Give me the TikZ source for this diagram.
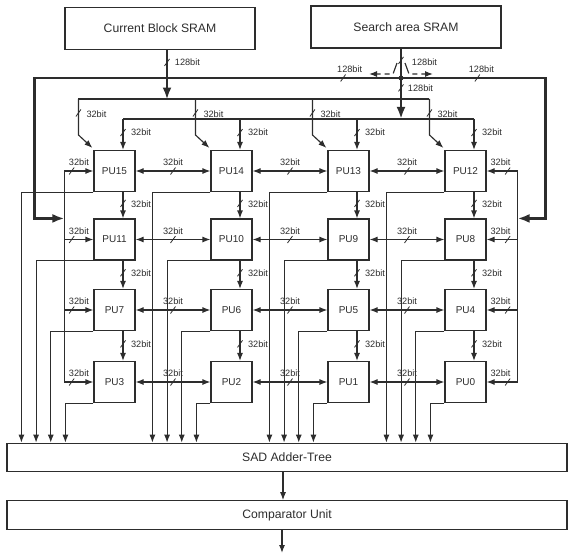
\documentclass[tikz,border=0pt]{standalone}
\usepackage{fontspec}
\setmainfont{Liberation Sans}
\usepackage{tikz}
\usetikzlibrary{calc}
\usetikzlibrary{arrows.meta}
\tikzset{>=latex}
\definecolor{ink}{RGB}{45,45,45}
\tikzset{cut/.pic={\draw[-,line width=0.8pt] (-2.5pt,-3.5pt) -- (2.5pt,3.5pt);}}

\begin{document}
\begin{tikzpicture}[x=1pt,y=-1pt,line width=1.15pt,color=ink,>={Latex[length=8pt,width=6pt]}]
  \tikzstyle{mem}=[draw,minimum width=190pt,minimum height=42pt,font=\fontsize{12.2}{14}\selectfont]
  \tikzstyle{bar}=[draw,minimum width=560pt,minimum height=28.5pt,font=\fontsize{12.2}{14}\selectfont]
  \tikzstyle{unit}=[draw,minimum size=41pt,inner sep=0pt,font=\fontsize{10}{12}\selectfont]
  \tikzstyle{lab}=[inner sep=0.5pt,font=\fontsize{9.2}{10}\selectfont]
  \tikzstyle{bus}=[line width=2.8pt,-{Latex[length=12pt,width=9pt]}]
  \useasboundingbox (0,0) rectangle (569,558);

  \node[mem] (cur) at (160,28.5) {Current Block SRAM};
  \node[mem] (sea) at (406,27) {Search area SRAM};
  \foreach \row/\y in {0/171,1/239.5,2/310,3/382}
    \foreach \col in {0,1,2,3}{
      \pgfmathtruncatemacro{\n}{15-4*\row-\col}
      \node[unit] (pu\n) at (114.5+117*\col,\y) {PU\n};
    }
  \node[bar] (sad) at (287,457.5) {SAD Adder-Tree};
  \node[bar] (cmp) at (287,515) {Comparator Unit};

  \coordinate (jn) at (401,78);
  \coordinate (cin) at (167,99.5);
  \coordinate (sbus) at ($(pu15.north)+(8.5,-31)$);
  \coordinate (lbus) at ($(pu15.west)+(-29,0)$);
  \coordinate (rbus) at ($(pu12.east)+(31,0)$);
  \coordinate (out) at (282,553);

  % 128bit buses
  \draw[bus] (cin |- cur.south) -- pic[pos=.25]{cut} node[lab,pos=.25,right=6pt]{128bit} (cin);
  \draw[line width=2.8pt] (jn |- sea.south) -- pic[pos=.4]{cut} node[lab,pos=.45,right=9pt]{128bit} (jn);
  \draw[bus] (jn) -- pic[pos=.24]{cut} node[lab,pos=.24,right=5pt]{128bit} (jn |- sbus);
  \draw[bus] (jn) -| pic[pos=.079]{cut} node[lab,pos=.07,above=4pt]{128bit}
    ($(lbus |- pu11.north)+(-30,0)$) -- (lbus |- pu11.north);
  \draw[bus] (jn) -| pic[pos=.264]{cut} node[lab,pos=.278,above=4pt]{128bit}
    ($(rbus |- pu8.north)+(28,0)$) -- (rbus |- pu8.north);
  \fill (jn) circle (2.5pt);
  \draw[->,dash pattern=on 11pt off 4pt on 5pt off 4pt] ($(jn)+(-4,-15)$) -- ($(jn)+(-8,-4)$) -- ($(jn)+(-32,-4)$);
  \draw[->,dash pattern=on 11pt off 4pt on 5pt off 4pt] ($(jn)+(4,-15)$) -- ($(jn)+(8,-4)$) -- ($(jn)+(32,-4)$);

  % 32bit feeds from the two memories
  \draw ($(pu15.north west)+(-15,-51)$) -- ($(pu12.north west)+(-15,-51)$);
  \draw (sbus) -- ($(pu12.north)+(8.5,-31)$);
  \foreach \n in {15,14,13,12}{
    \draw[->] ($(pu\n.north west)+(-15,-51)$) -- pic[pos=.39]{cut} node[lab,pos=.42,right=7pt]{32bit}
      ($(pu\n.north west)+(-15,-15)$) -- ($(pu\n.north west)+(-1,-2)$);
    \draw[->] ($(pu\n.north)+(8.5,-31)$) -- pic[pos=.44]{cut} node[lab,pos=.44,right=7pt]{32bit} ($(pu\n.north)+(8.5,0)$);
  }

  % PU array
  \draw (lbus) -- (lbus |- pu3);
  \draw (rbus) -- (rbus |- pu0);
  \foreach \n in {15,11,7,3}
    \draw[->] (lbus |- pu\n) -- pic[pos=.25]{cut} node[lab,pos=.5,above=4pt]{32bit} (pu\n);
  \foreach \n in {12,8,4,0}
    \draw[->] (rbus |- pu\n) -- pic[pos=.32]{cut} node[lab,pos=.55,above=4pt]{32bit} (pu\n);
  \foreach \a/\b in {15/14,14/13,13/12,11/10,10/9,9/8,7/6,6/5,5/4,3/2,2/1,1/0}
    \draw[<->] (pu\a) -- pic[pos=.5]{cut} node[lab,above=4pt]{32bit} (pu\b);
  \foreach \a/\b in {15/11,14/10,13/9,12/8,11/7,10/6,9/5,8/4,7/3,6/2,5/1,4/0}
    \draw[->] ($(pu\a.south)+(8.5,0)$) -- pic[pos=.43]{cut} node[lab,pos=.45,right=7pt]{32bit} ($(pu\b.north)+(8.5,0)$);

  % outputs to the adder tree
  \foreach \n in {0,...,15}{
    \pgfmathtruncatemacro{\row}{3-int(\n/4)}
    \pgfmathtruncatemacro{\col}{3-mod(\n,4)}
    \pgfmathsetmacro{\o}{-58+14.67*\row-(\col==0?14:0)}
    \draw[->] (pu\n.south west) -| ($(pu\n.south west |- sad.north)+(\o,0)$);
  }
  \draw[->] ([xshift=-4pt]sad.south) -- ([xshift=-4pt]cmp.north);
  \draw[->] ([xshift=-5pt]cmp.south) -- (out);
\end{tikzpicture}
\end{document}
